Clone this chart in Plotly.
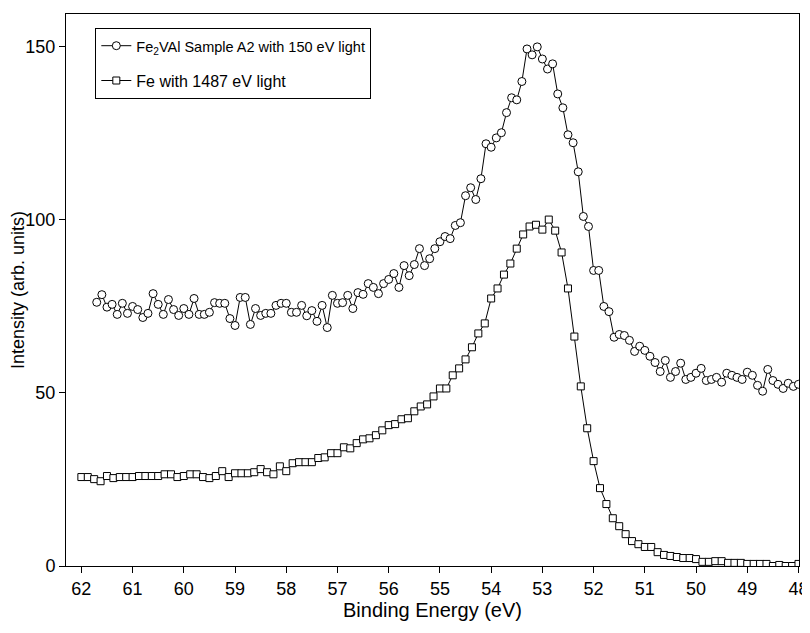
import numpy as np
import plotly.graph_objects as go

# Fe2VAl sample A2, 150 eV light (0.1 eV steps from 61.7 down to 48.0)
fe2val_energy = np.round(np.arange(61.7, 47.95, -0.1), 2)
fe2val_intensity = [
    76.2, 78.4, 74.8, 75.6, 72.7, 75.9, 73.0, 75.0, 74.1, 71.8,
    73.0, 78.7, 75.6, 72.7, 77.0, 74.1, 72.4, 74.4, 72.7, 77.3,
    72.7, 72.7, 73.3, 76.1, 75.9, 75.9, 71.5, 69.5, 77.6, 77.6,
    69.8, 74.4, 72.4, 73.0, 73.0, 75.3, 75.9, 75.9, 73.3, 73.3,
    75.3, 72.3, 73.8, 70.7, 75.3, 68.9, 78.2, 75.9, 76.1, 78.2,
    74.4, 79.0, 78.5, 81.6, 80.5, 78.7, 81.6, 82.8, 84.5, 80.5,
    86.8, 83.9, 87.1, 91.7, 86.8, 88.8, 91.7, 93.7, 95.2, 94.6,
    98.4, 99.2, 107.0, 109.3, 105.9, 111.9, 122.0, 121.0, 123.7, 125.2,
    131.0, 135.3, 134.7, 140.0, 149.4, 147.7, 150.0, 146.5, 143.6, 145.1,
    136.4, 132.4, 124.6, 122.3, 113.9, 101.0, 98.1, 85.4, 85.4, 75.0,
    73.5, 66.1, 66.9, 66.6, 65.2, 62.0, 63.5, 62.3, 60.6, 58.8,
    56.2, 59.4, 54.5, 56.2, 58.6, 53.9, 54.5, 55.7, 57.1, 53.6,
    53.9, 54.5, 53.1, 55.7, 55.1, 54.5, 53.9, 56.0, 55.1, 52.2,
    50.5, 56.8, 53.6, 52.5, 51.3, 52.8, 51.9, 52.5,
]

# Fe reference, 1487 eV light (0.125 eV steps from 62 down to 48)
fe_energy = np.round(np.arange(62.0, 47.99, -0.125), 3)
fe_intensity = [
    25.7, 25.7, 25.1, 24.5, 26.0, 25.4, 25.7, 25.7, 25.7, 26.0,
    26.0, 26.0, 26.0, 26.5, 26.5, 25.7, 26.0, 26.5, 26.5, 25.7,
    25.4, 26.0, 27.4, 25.7, 26.8, 26.8, 26.8, 27.1, 28.0, 27.1,
    26.5, 28.8, 27.4, 29.7, 30.0, 30.0, 30.0, 31.2, 31.4, 32.6,
    32.6, 34.3, 34.0, 35.5, 36.6, 36.9, 37.8, 39.2, 40.7, 41.0,
    42.4, 42.7, 44.7, 46.1, 46.7, 49.0, 51.3, 51.3, 55.1, 57.1,
    59.7, 63.2, 67.2, 70.1, 77.3, 80.2, 84.2, 87.4, 91.7, 95.8,
    98.1, 98.6, 97.2, 100.1, 96.9, 90.6, 80.2, 66.3, 51.9, 39.8,
    30.3, 22.5, 17.9, 13.8, 11.5, 9.2, 7.2, 6.3, 5.5, 5.5,
    4.0, 3.2, 2.9, 2.6, 2.3, 2.3, 2.0, 1.2, 1.2, 1.4,
    1.4, 0.9, 0.9, 0.9, 0.6, 0.6, 0.6, 0.6, 0.0, 0.3,
    0.0, 0.0, 0.6,
]

fig = go.Figure()
fig.add_trace(go.Scatter(
    x=fe2val_energy, y=fe2val_intensity, mode="lines+markers",
    name='<span style="font-size:14.5px">Fe<sub>2</sub>VAl Sample A2 with 150 eV light</span>',
    legendgroup="a",
    line=dict(color="black", width=1),
    marker=dict(symbol="circle", size=8, color="white", line=dict(color="black", width=1)),
))
fig.add_trace(go.Scatter(
    x=fe_energy, y=fe_intensity, mode="lines+markers",
    name="Fe with 1487 eV light", legendgroup="b",
    line=dict(color="black", width=1),
    marker=dict(symbol="square", size=7, color="white", line=dict(color="black", width=1)),
))

axis_common = dict(
    showgrid=False, zeroline=False, showline=True, linecolor="black", linewidth=1,
    ticks="outside", ticklen=6, tickcolor="black", mirror=True, automargin=False,
    tickfont=dict(size=18, color="black"), ticklabeloverflow="allow",
)
fig.update_xaxes(
    range=[62.3, 47.99], tickmode="array", tickvals=list(range(48, 63)),
    title=dict(text="Binding Energy (eV)", font=dict(size=20, color="black"), standoff=3),
    **axis_common,
)
fig.update_yaxes(
    range=[0, 159.5], tickvals=[0, 50, 100, 150],
    title=dict(text="Intensity (arb. units)", font=dict(size=18, color="black"), standoff=2),
    **axis_common,
)

# the page body adds an 8px margin, so the figure is drawn a little smaller
fig.update_layout(
    width=802, height=625,
    margin=dict(l=58, r=11, t=6, b=67),
    plot_bgcolor="white", paper_bgcolor="white",
    font=dict(family="Liberation Sans, Arial, sans-serif", size=16, color="black"),
    legend=dict(
        x=0.04, y=0.975, xanchor="left", yanchor="top",
        bordercolor="black", borderwidth=1, bgcolor="white",
        traceorder="grouped", tracegroupgap=11,
        font=dict(size=16),
    ),
)

fig.write_html("out.html")
